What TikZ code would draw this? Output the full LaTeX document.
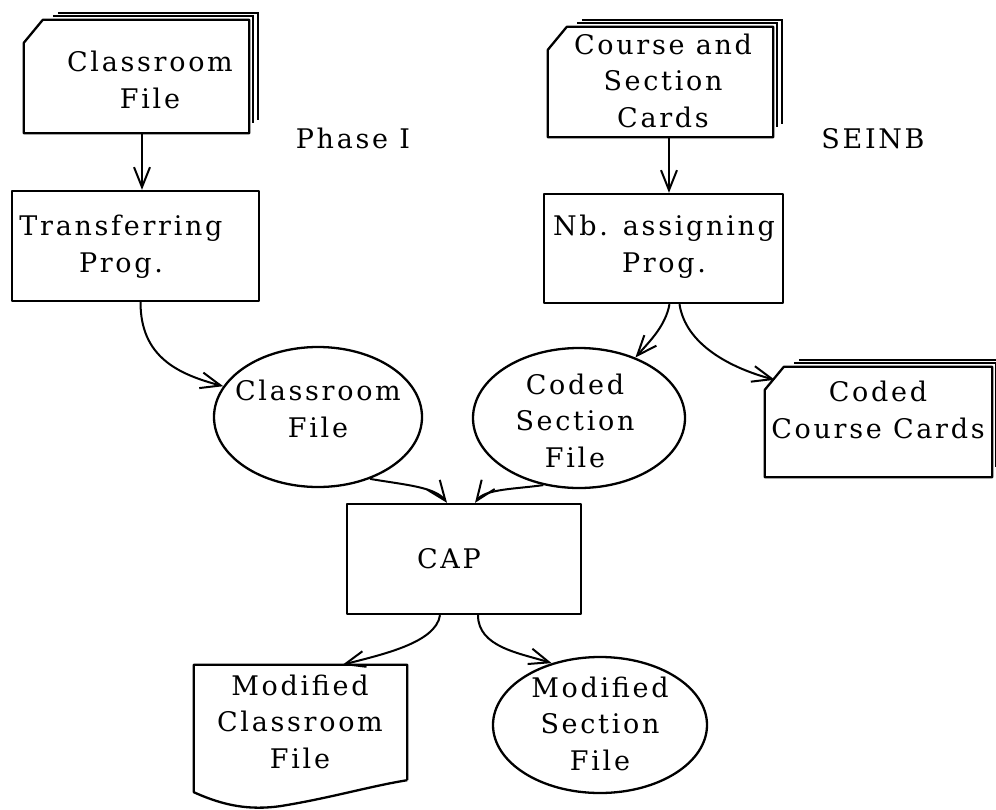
\documentclass[tikz,border=0pt]{standalone}
\usepackage{fontspec}
\setmainfont{DejaVu Serif}[LetterSpace=10]
\usetikzlibrary{arrows.meta,calc,shapes.geometric}

% punched-card deck: front card with clipped corner, two cards peeking behind
\newcommand\carddeck[1]{%
  \draw[outline] ($(#1.north west)+(0,-23)$) -- ($(#1.north west)+(19,0)$)
    -- (#1.north east) -- (#1.south east) -- (#1.south west) -- cycle;
  \draw[backline] ($(#1.north west)+(29,4)$) -- ($(#1.north east)+(4,4)$)
    -- ($(#1.south east)+(4,10)$);
  \draw[backline] ($(#1.north west)+(34,7)$) -- ($(#1.north east)+(9,7)$)
    -- ($(#1.south east)+(9,13)$);
}

\begin{document}
\begin{tikzpicture}[x=1pt,y=1pt,
  outline/.style={draw=black,line width=2.3pt,line join=round},
  backline/.style={draw=black,line width=1.8pt},
  box/.style={outline,rectangle,inner sep=0pt},
  blob/.style={outline,ellipse,inner sep=0pt},
  frame/.style={rectangle,inner sep=0pt,draw=none},
  txt/.style={font=\fontsize{27}{36.5}\selectfont,align=center,inner sep=0pt,anchor=base},
  flow/.style={line width=2pt,-{Straight Barb[length=20pt,width=16pt,line width=2pt]}},
]
\useasboundingbox (0,0) rectangle (996,-809);

% ---- input decks ----
\node[frame,minimum width=225pt,minimum height=113pt] (cf) at (136.5,-76.5) {};
\carddeck{cf}
\node[txt] (cft) at (150,-108) {Classroom\\File};

\node[frame,minimum width=225pt,minimum height=110pt] (cc) at (660.5,-82) {};
\carddeck{cc}
\node[txt] (cct) at (663,-127) {Course and\\Section\\Cards};

\node[txt] (ph) at (353,-148) {Phase I};
\node[txt] (se) at (873,-148) {SEINB};

% ---- programs ----
\node[box,minimum width=247pt,minimum height=110pt] (tp) at (135.5,-246) {};
\node[txt] (tpt) at (121,-272) {Transferring\\Prog.};

\node[box,minimum width=239pt,minimum height=109pt] (nb) at (663.5,-248.5) {};
\node[txt] (nbt) at (664,-272) {Nb. assigning\\Prog.};

% ---- intermediate files ----
\node[blob,minimum width=208pt,minimum height=140pt] (ce) at (318,-417) {};
\node[txt] (cet) at (318,-437) {Classroom\\File};

\node[blob,minimum width=212pt,minimum height=140pt] (cs) at (579,-418) {};
\node[txt] (cst) at (575,-467) {Coded\\Section\\File};

\node[frame,minimum width=227pt,minimum height=110pt] (ccc) at (878.5,-422) {};
\carddeck{ccc}
\node[txt] (ccct) at (878,-438) {Coded\\Course Cards};

% ---- CAP ----
\node[box,minimum width=234pt,minimum height=110pt] (cap) at (464,-559) {};
\node[txt] (capt) at (449,-568) {CAP};

% ---- outputs ----
\node[frame,minimum width=213pt,minimum height=115pt] (mc) at (300.5,-722.5) {};
\draw[outline] (mc.south east) -- (mc.north east) -- (mc.north west)
  -- ($(mc.south west)+(0,-12)$)
  .. controls ($(mc.south west)+(31,-26)$) and ($(mc.south west)+(56,-30)$) .. ($(mc.south west)+(86,-26)$)
  .. controls ($(mc.south west)+(136,-18)$) and ($(mc.south west)+(176,-6)$) .. (mc.south east);
\node[txt] (mct) at (300,-768) {Modified\\Classroom\\File};

\node[blob,minimum width=214pt,minimum height=136pt] (ms) at (600,-725) {};
\node[txt] (mst) at (600,-770) {Modified\\Section\\File};

% ---- flow lines ----
\draw[flow] ([xshift=5.5pt]cf.south) -- ([xshift=5.5pt]cf.south |- tp.north);
\draw[flow] ([xshift=8.5pt]cc.south) -- ([xshift=8.5pt]cc.south |- nb.north);
\draw[flow] ([xshift=5pt]tp.south) .. controls +(0,-55) and +(-45,12) .. (ce.162);
\draw[flow] ([xshift=6pt]nb.south) .. controls +(-4,-22) and +(14,16) .. (cs.47);
\draw[flow] ([xshift=16pt]nb.south) .. controls +(6,-40) and +(-45,12) .. ($(ccc.north west)+(10,-13)$);
\draw[flow] (ce.-50) .. controls +(35,-6) and +(-12,16) .. ([xshift=-17pt]cap.north);
\draw[flow] (cs.-118) .. controls +(-28,-4) and +(10,14) .. ([xshift=11pt]cap.north);
\draw[flow] ([xshift=-24pt]cap.south) .. controls +(-4,-28) and +(38,10) .. ([xshift=42pt]mc.north);
\draw[flow] ([xshift=14pt]cap.south) .. controls +(0,-32) and +(-32,10) .. (ms.128);
\end{tikzpicture}
\end{document}
